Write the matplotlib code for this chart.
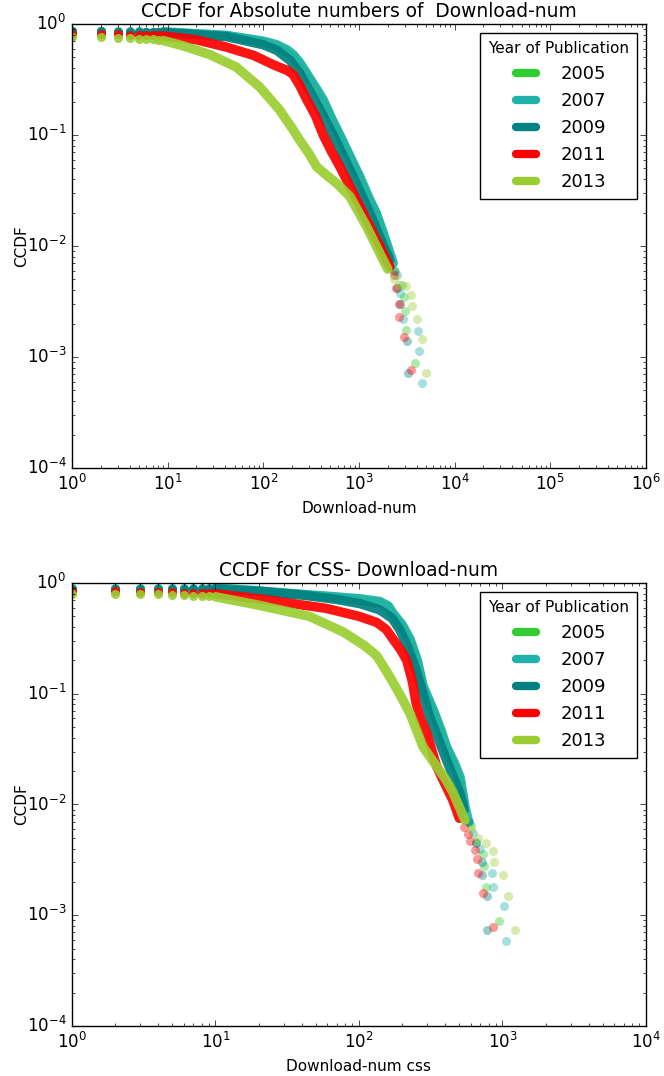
"""CCDF of download counts per publication year, absolute and CSS panels."""

import matplotlib
matplotlib.use("Agg")
import matplotlib.pyplot as plt
from matplotlib.lines import Line2D

plt.style.use("classic")
plt.rcParams["figure.facecolor"] = "white"
plt.rcParams["savefig.facecolor"] = "white"

YEARS = ["2005", "2007", "2009", "2011", "2013"]
COLORS = {
    "2005": "#32CD32",
    "2007": "#20B2AA",
    "2009": "#008080",
    "2011": "#FF0000",
    "2013": "#9ACD32",
}

# ---- top panel: absolute download numbers ----
ABS_HEAD_X = [1, 2, 3, 4, 5, 6, 7, 8]
ABS_HEAD_Y = {
    "2005": [0.86, 0.86, 0.85, 0.85, 0.85, 0.84, 0.84, 0.84],
    "2007": [0.87, 0.87, 0.86, 0.86, 0.86, 0.85, 0.85, 0.85],
    "2009": [0.86, 0.86, 0.85, 0.85, 0.85, 0.84, 0.84, 0.84],
    "2011": [0.82, 0.81, 0.81, 0.80, 0.80, 0.80, 0.79, 0.79],
    "2013": [0.76, 0.76, 0.75, 0.75, 0.74, 0.74, 0.73, 0.72],
}
ABS_CURVE_X = {
    "2005": [9, 41, 100, 138, 180, 205, 240, 283, 350, 420, 520, 630, 800, 1020, 1250, 1520, 1800, 2050],
    "2007": [9, 41, 100, 138, 180, 205, 240, 283, 350, 420, 520, 630, 800, 1020, 1250, 1520, 1800, 2100, 2280],
    "2009": [9, 41, 100, 138, 190, 240, 330, 420, 536, 700, 870, 1100, 1400, 1800, 2100],
    "2011": [9, 20, 41, 80, 127, 180, 205, 240, 283, 350, 422, 520, 630, 870, 1300, 1700, 2100],
    "2013": [9, 15, 27.6, 52, 92, 148, 200, 240, 300, 360, 450, 580, 800, 1200, 1650, 2000],
}
ABS_CURVE_Y = {
    "2005": [0.84, 0.78, 0.69, 0.63, 0.55, 0.50, 0.43, 0.35, 0.26, 0.20, 0.135, 0.097, 0.063, 0.040, 0.027, 0.019, 0.012, 0.0085],
    "2007": [0.85, 0.79, 0.70, 0.65, 0.58, 0.53, 0.45, 0.36, 0.27, 0.21, 0.14, 0.10, 0.065, 0.042, 0.028, 0.0196, 0.013, 0.0087, 0.007],
    "2009": [0.84, 0.77, 0.65, 0.58, 0.47, 0.36, 0.22, 0.15, 0.10, 0.062, 0.042, 0.027, 0.017, 0.010, 0.0075],
    "2011": [0.78, 0.72, 0.62, 0.52, 0.43, 0.38, 0.35, 0.28, 0.21, 0.15, 0.10, 0.07, 0.052, 0.030, 0.015, 0.0095, 0.0065],
    "2013": [0.71, 0.63, 0.53, 0.41, 0.27, 0.168, 0.115, 0.090, 0.068, 0.052, 0.044, 0.037, 0.028, 0.015, 0.0086, 0.0062],
}
ABS_TAIL_X = {
    "2005": [2400, 2800, 2950, 3050, 3100, 3880],
    "2007": [2500, 2700, 2900, 4150, 4220, 4600],
    "2009": [2300, 2500, 2700, 3200, 3250],
    "2011": [2300, 2450, 2650, 2650, 2950, 3500],
    "2013": [2300, 2600, 3100, 3470, 3540, 4050, 4560, 4970],
}
ABS_TAIL_Y = {
    "2005": [0.0060, 0.0045, 0.0035, 0.0026, 0.00175, 0.00088],
    "2007": [0.0055, 0.0038, 0.0022, 0.00173, 0.00113, 0.00058],
    "2009": [0.0060, 0.0042, 0.0030, 0.0014, 0.00072],
    "2011": [0.0055, 0.0042, 0.0030, 0.0023, 0.0015, 0.00077],
    "2013": [0.0050, 0.0045, 0.0044, 0.0036, 0.0029, 0.0022, 0.00144, 0.00072],
}

# ---- bottom panel: CSS download numbers ----
CSS_HEAD_X = [1, 2, 3, 4, 5, 6, 7, 8, 9]
CSS_HEAD_Y = {
    "2005": [0.89, 0.89, 0.89, 0.89, 0.88, 0.88, 0.88, 0.88, 0.88],
    "2007": [0.90, 0.90, 0.90, 0.90, 0.90, 0.90, 0.90, 0.90, 0.90],
    "2009": [0.89, 0.89, 0.89, 0.89, 0.89, 0.88, 0.88, 0.88, 0.88],
    "2011": [0.84, 0.84, 0.83, 0.83, 0.83, 0.82, 0.82, 0.81, 0.81],
    "2013": [0.79, 0.79, 0.79, 0.79, 0.78, 0.78, 0.77, 0.77, 0.76],
}
CSS_CURVE_X = {
    "2005": [10, 20, 35, 60, 102, 140, 160, 173, 200, 227, 255, 280, 330, 370, 408, 460, 506, 540],
    "2007": [10, 20, 35, 60, 102, 140, 160, 173, 200, 227, 255, 280, 330, 370, 408, 460, 506, 548, 580],
    "2009": [10, 20, 40, 70, 102, 140, 170, 192, 220, 250, 280, 310, 360, 408, 460, 506, 540],
    "2011": [10, 20, 59, 100, 133, 155, 173, 195, 215, 235, 250, 270, 297, 348, 400, 450, 500],
    "2013": [10, 20, 45, 78, 110, 133, 155, 173, 200, 227, 250, 280, 348, 400, 450, 548],
}
CSS_CURVE_Y = {
    "2005": [0.89, 0.84, 0.79, 0.75, 0.70, 0.66, 0.60, 0.51, 0.40, 0.30, 0.19, 0.11, 0.068, 0.046, 0.031, 0.023, 0.016, 0.010],
    "2007": [0.90, 0.85, 0.80, 0.76, 0.72, 0.68, 0.62, 0.53, 0.42, 0.31, 0.20, 0.117, 0.071, 0.048, 0.033, 0.024, 0.0177, 0.0095, 0.007],
    "2009": [0.88, 0.84, 0.78, 0.71, 0.65, 0.57, 0.48, 0.38, 0.26, 0.163, 0.10, 0.062, 0.038, 0.025, 0.017, 0.0125, 0.009],
    "2011": [0.80, 0.72, 0.59, 0.50, 0.44, 0.38, 0.31, 0.25, 0.20, 0.13, 0.082, 0.058, 0.044, 0.022, 0.015, 0.011, 0.0075],
    "2013": [0.75, 0.63, 0.50, 0.36, 0.27, 0.22, 0.16, 0.126, 0.090, 0.066, 0.048, 0.033, 0.022, 0.017, 0.013, 0.0072],
}
CSS_TAIL_X = {
    "2005": [600, 653, 735, 740, 767, 950],
    "2007": [620, 700, 840, 863, 1027, 1050],
    "2009": [580, 650, 716, 720, 780, 780],
    "2011": [540, 578, 590, 648, 660, 670, 735, 863],
    "2013": [600, 680, 767, 863, 870, 1013, 1100, 1220],
}
CSS_TAIL_Y = {
    "2005": [0.0065, 0.0046, 0.0036, 0.0028, 0.0018, 0.00089],
    "2007": [0.0055, 0.0040, 0.0024, 0.0018, 0.0012, 0.00058],
    "2009": [0.0070, 0.0045, 0.0030, 0.0023, 0.0015, 0.00074],
    "2011": [0.0062, 0.0054, 0.0047, 0.0039, 0.0032, 0.0024, 0.0016, 0.00079],
    "2013": [0.0060, 0.0050, 0.0045, 0.0038, 0.0030, 0.0023, 0.0015, 0.00074],
}

MS = 6.5


def draw_panel(ax, head_x, head_y, curve_x, curve_y, tail_x, tail_y, xmax, title, xlabel):
    for year in YEARS:
        c = COLORS[year]
        ax.plot(head_x, head_y[year], "o", color=c, ms=MS, mec="none", alpha=0.9)
        ax.plot(curve_x[year], curve_y[year], "-", color=c, lw=MS * 1.05,
                solid_capstyle="round", solid_joinstyle="round", alpha=0.92)
        ax.plot(tail_x[year], tail_y[year], "o", color=c, ms=MS, mec="none", alpha=0.4)

    ax.set_xscale("log")
    ax.set_yscale("log")
    ax.set_xlim(1, xmax)
    ax.set_ylim(1e-4, 1)
    ax.set_title(title, fontsize=13.4)
    ax.set_xlabel(xlabel, fontsize=11)
    ax.set_ylabel("CCDF", fontsize=11, labelpad=-1.5)
    ax.tick_params(labelsize=12)

    handles = [Line2D([], [], color=COLORS[y], lw=6, solid_capstyle="round") for y in YEARS]
    leg = ax.legend(handles, YEARS, loc="upper right", title="Year of Publication",
                    fontsize=13, handlelength=1.7, handletextpad=1.05, labelspacing=0.5,
                    borderpad=0.45, fancybox=False)
    leg.get_title().set_fontsize(11)


fig = plt.figure(figsize=(6.64, 10.76), dpi=100)
ax_top = fig.add_axes([0.1084, 0.565, 0.8645, 0.4127])
ax_bot = fig.add_axes([0.1084, 0.0465, 0.8645, 0.4117])

draw_panel(ax_top, ABS_HEAD_X, ABS_HEAD_Y, ABS_CURVE_X, ABS_CURVE_Y, ABS_TAIL_X, ABS_TAIL_Y,
           1e6, "CCDF for Absolute numbers of  Download-num", "Download-num")
draw_panel(ax_bot, CSS_HEAD_X, CSS_HEAD_Y, CSS_CURVE_X, CSS_CURVE_Y, CSS_TAIL_X, CSS_TAIL_Y,
           1e4, "CCDF for CSS- Download-num", "Download-num css")

fig.savefig("out.png", dpi=100)
